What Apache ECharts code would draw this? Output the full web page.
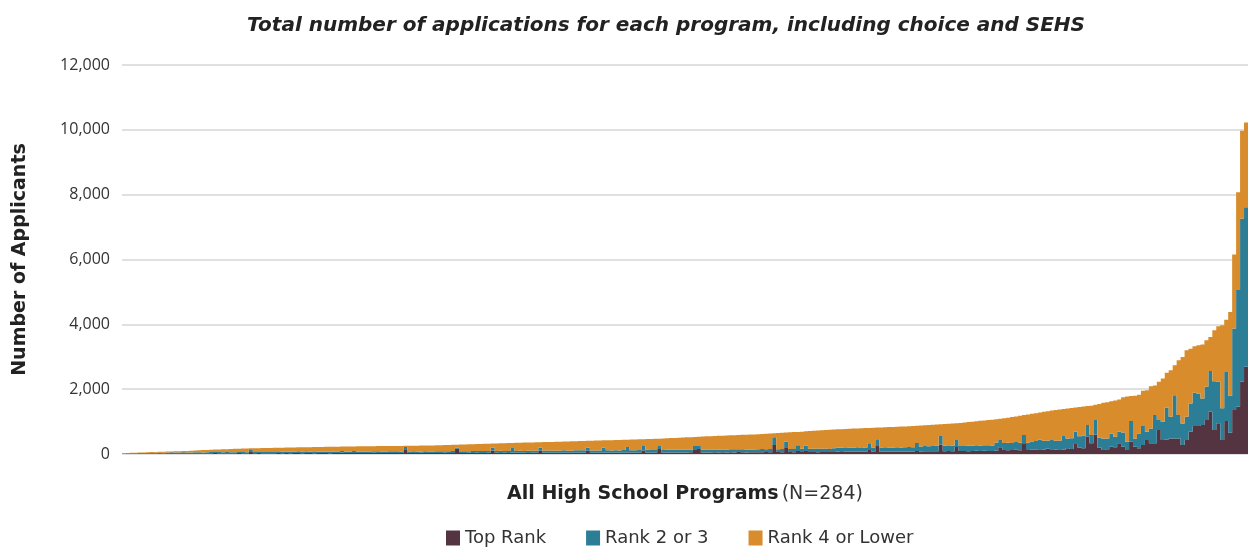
<!DOCTYPE html>
<html>
<head>
<meta charset="utf-8">
<title>Applications per program</title>
<script src="https://cdn.jsdelivr.net/npm/echarts@6/dist/echarts.min.js"></script>
<style>
  html, body { margin: 0; padding: 0; background: #fff; }
  #chart { width: 1248px; height: 547px; }
</style>
</head>
<body>
<div id="chart"></div>
<script>
// one entry per high school program, sorted by total applications (N=284)
var topRank = [
  10, 12, 12, 14, 15, 15, 16, 18, 18, 20,
  18, 20, 22, 20, 24, 22, 20, 25, 24, 22,
  22, 25, 24, 28, 25, 22, 26, 24, 25, 28,
  26, 24, 85, 25, 28, 24, 26, 22, 25, 28,
  26, 30, 25, 28, 32, 26, 30, 28, 25, 30,
  28, 32, 26, 30, 28, 35, 30, 28, 32, 30,
  30, 28, 32, 35, 30, 28, 32, 30, 34, 30,
  32, 144, 30, 32, 28, 35, 30, 32, 28, 30,
  30, 35, 32, 30, 164, 34, 30, 36, 32, 35,
  34, 32, 36, 100, 35, 32, 38, 34, 45, 36,
  35, 38, 34, 40, 36, 100, 38, 35, 40, 36,
  38, 42, 36, 40, 38, 45, 40, 100, 42, 38,
  40, 45, 42, 38, 44, 40, 42, 50, 45, 42,
  45, 110, 48, 42, 46, 154, 44, 48, 50, 46,
  45, 50, 48, 52, 150, 154, 48, 50, 46, 52,
  50, 52, 48, 55, 50, 58, 52, 50, 55, 52,
  55, 52, 58, 55, 277, 60, 56, 205, 58, 55,
  95, 60, 90, 58, 62, 56, 60, 64, 58, 62,
  70, 65, 72, 68, 75, 70, 66, 72, 120, 68,
  246, 72, 75, 70, 78, 74, 72, 80, 76, 78,
  90, 80, 85, 82, 88, 84, 290, 86, 90, 85,
  215, 90, 95, 88, 92, 98, 95, 100, 92, 96,
  110, 205, 120, 115, 125, 130, 118, 308, 125, 135,
  140, 150, 130, 160, 145, 135, 150, 140, 180, 155,
  308, 200, 180, 540, 330, 605, 200, 123, 144, 226,
  205, 328, 226, 123, 379, 226, 174, 277, 430, 328,
  328, 738, 430, 451, 482, 482, 482, 277, 430, 687,
  862, 862, 892, 1046, 1302, 738, 945, 430, 1015, 656,
  1354, 1456, 2225, 2690
];
var rank2to3 = [
  8, 10, 12, 12, 14, 15, 16, 16, 18, 20,
  20, 22, 30, 24, 22, 35, 26, 24, 28, 30,
  28, 30, 35, 32, 40, 30, 34, 30, 32, 36,
  34, 32, 60, 35, 30, 38, 32, 40, 35, 30,
  40, 36, 45, 38, 52, 40, 35, 48, 40, 42,
  45, 40, 50, 42, 48, 55, 40, 45, 60, 42,
  48, 52, 45, 50, 58, 46, 44, 52, 48, 55,
  48, 71, 46, 50, 52, 45, 55, 48, 50, 52,
  52, 48, 55, 60, 40, 50, 58, 48, 62, 55,
  58, 62, 55, 100, 60, 65, 58, 62, 140, 60,
  62, 58, 65, 60, 68, 95, 62, 70, 60, 65,
  65, 70, 68, 62, 75, 68, 72, 100, 66, 70,
  70, 150, 72, 68, 75, 70, 78, 165, 72, 76,
  78, 136, 80, 82, 75, 92, 80, 85, 82, 88,
  85, 80, 90, 82, 95, 96, 88, 85, 92, 90,
  80, 90, 85, 95, 100, 88, 95, 92, 85, 90,
  95, 100, 92, 98, 236, 90, 102, 175, 96, 100,
  172, 100, 170, 105, 98, 110, 102, 108, 100, 112,
  120, 130, 115, 125, 118, 135, 122, 128, 208, 130,
  206, 125, 130, 128, 122, 135, 130, 125, 140, 128,
  250, 150, 160, 155, 162, 170, 264, 165, 158, 170,
  215, 160, 155, 170, 165, 175, 168, 172, 180, 165,
  240, 225, 220, 230, 215, 240, 230, 277, 225, 250,
  260, 300, 280, 250, 290, 270, 260, 414, 300, 330,
  379, 350, 380, 352, 255, 441, 300, 359, 338, 410,
  328, 359, 441, 256, 636, 256, 462, 585, 257, 462,
  872, 308, 565, 985, 667, 1333, 718, 667, 719, 873,
  1025, 1005, 821, 1026, 1262, 1508, 1280, 985, 1518, 1139,
  2516, 3604, 5030, 4920
];
var rank4OrLower = [
  7, 8, 11, 14, 16, 20, 23, 26, 29, 30,
  34, 34, 28, 40, 42, 35, 50, 51, 54, 60,
  70, 70, 71, 75, 75, 93, 90, 101, 103, 101,
  110, 116, 30, 118, 122, 120, 127, 126, 130, 134,
  129, 132, 130, 136, 121, 142, 145, 136, 149, 144,
  145, 148, 146, 152, 150, 138, 160, 159, 142, 164,
  160, 160, 164, 157, 155, 170, 169, 164, 165, 163,
  170, 37, 178, 174, 178, 180, 177, 184, 188, 186,
  188, 191, 191, 192, 82, 206, 206, 214, 208, 216,
  218, 220, 227, 122, 231, 233, 238, 242, 157, 250,
  253, 256, 256, 258, 257, 169, 267, 265, 273, 275,
  277, 272, 284, 290, 283, 287, 292, 208, 304, 308,
  310, 227, 310, 321, 311, 323, 316, 225, 327, 330,
  329, 210, 332, 340, 347, 226, 354, 351, 358, 362,
  372, 378, 376, 386, 281, 282, 402, 409, 412, 413,
  430, 423, 437, 425, 430, 439, 443, 453, 460, 463,
  462, 467, 476, 480, 127, 497, 496, 281, 514, 520,
  415, 530, 438, 543, 554, 556, 568, 566, 588, 580,
  570, 571, 585, 585, 591, 585, 607, 600, 477, 612,
  363, 623, 620, 632, 635, 631, 644, 647, 642, 658,
  530, 648, 641, 657, 652, 656, 364, 675, 686, 687,
  520, 710, 722, 727, 741, 737, 759, 763, 776, 799,
  725, 660, 765, 775, 800, 790, 832, 615, 870, 855,
  860, 830, 890, 910, 905, 955, 965, 836, 925, 935,
  748, 900, 905, 586, 905, 474, 1045, 1098, 1118, 989,
  1117, 993, 1083, 1391, 775, 1318, 1194, 1087, 1283, 1302,
  910, 1180, 1333, 1067, 1436, 923, 1692, 2051, 2051, 1690,
  1436, 1487, 1662, 1436, 1046, 1569, 1713, 2555, 1612, 2585,
  2284, 3012, 2715, 2615
];
var yTicks = [0, 2000, 4000, 6000, 8000, 10000, 12000];

var programs = topRank.map(function (v, i) { return 'Program ' + (i + 1) })

var chart = echarts.init(document.getElementById('chart'), null, { renderer: 'canvas' })

var font = '"Open Sans", "Noto Sans", sans-serif'
var wide = '"DejaVu Sans", "Open Sans", sans-serif'
var colors = ['#533440', '#2c7d96', '#d88c2b']

// large mode fills a whole series as one path, so the thin slots don't leave seams
function barSeries(name, data, color) {
  return {
    name: name,
    type: 'bar',
    stack: 'apps',
    data: data,
    large: true,
    largeThreshold: 100,
    barCategoryGap: 0,
    barGap: 0,
    itemStyle: { color: color },
    emphasis: { disabled: true },
    animation: false,
  }
}

chart.setOption({
  backgroundColor: '#fff',
  animation: false,
  color: colors,
  textStyle: { fontFamily: font },
  title: {
    text: 'Total number of applications for each program, including choice and SEHS',
    left: 661,
    textAlign: 'center',
    top: 11,
    textStyle: {
      fontFamily: wide,
      fontStyle: 'italic',
      fontWeight: 'bold',
      fontSize: 20,
      color: '#222',
    },
  },
  legend: {
    left: 441,
    top: 524,
    itemWidth: 14,
    itemHeight: 15,
    itemGap: 40,
    icon: 'rect',
    textStyle: { fontSize: 18, color: '#333', fontFamily: wide },
    data: ['Top Rank', 'Rank 2 or 3', 'Rank 4 or Lower'],
  },
  grid: {
    left: 122,
    right: 0,
    top: 65,
    bottom: 93,
  },
  xAxis: {
    type: 'category',
    data: programs,
    axisLine: { show: false },
    axisTick: { show: false },
    axisLabel: { show: false },
    name: '{b|All High School Programs} {n|(N=284)}',
    nameLocation: 'middle',
    nameGap: 31,
    nameTextStyle: {
      rich: {
        b: { fontFamily: wide, fontSize: 19, fontWeight: 'bold', color: '#222' },
        n: { fontFamily: wide, fontSize: 19, fontWeight: 'normal', color: '#333' },
      },
    },
  },
  yAxis: {
    type: 'value',
    min: yTicks[0],
    max: yTicks[yTicks.length - 1],
    interval: 2000,
    axisLine: { show: false },
    axisTick: { show: false },
    axisLabel: {
      fontSize: 16,
      color: '#333',
      margin: 12,
      formatter: function (v) { return v.toLocaleString('en-US') },
    },
    splitLine: { lineStyle: { color: '#d6d6d6', width: 1.5 } },
    name: 'Number of Applicants',
    nameLocation: 'middle',
    nameGap: 92,
    nameTextStyle: { fontFamily: wide, fontSize: 19, fontWeight: 'bold', color: '#222' },
  },
  series: [
    barSeries('Top Rank', topRank, colors[0]),
    barSeries('Rank 2 or 3', rank2to3, colors[1]),
    barSeries('Rank 4 or Lower', rank4OrLower, colors[2]),
  ],
})
</script>
</body>
</html>
